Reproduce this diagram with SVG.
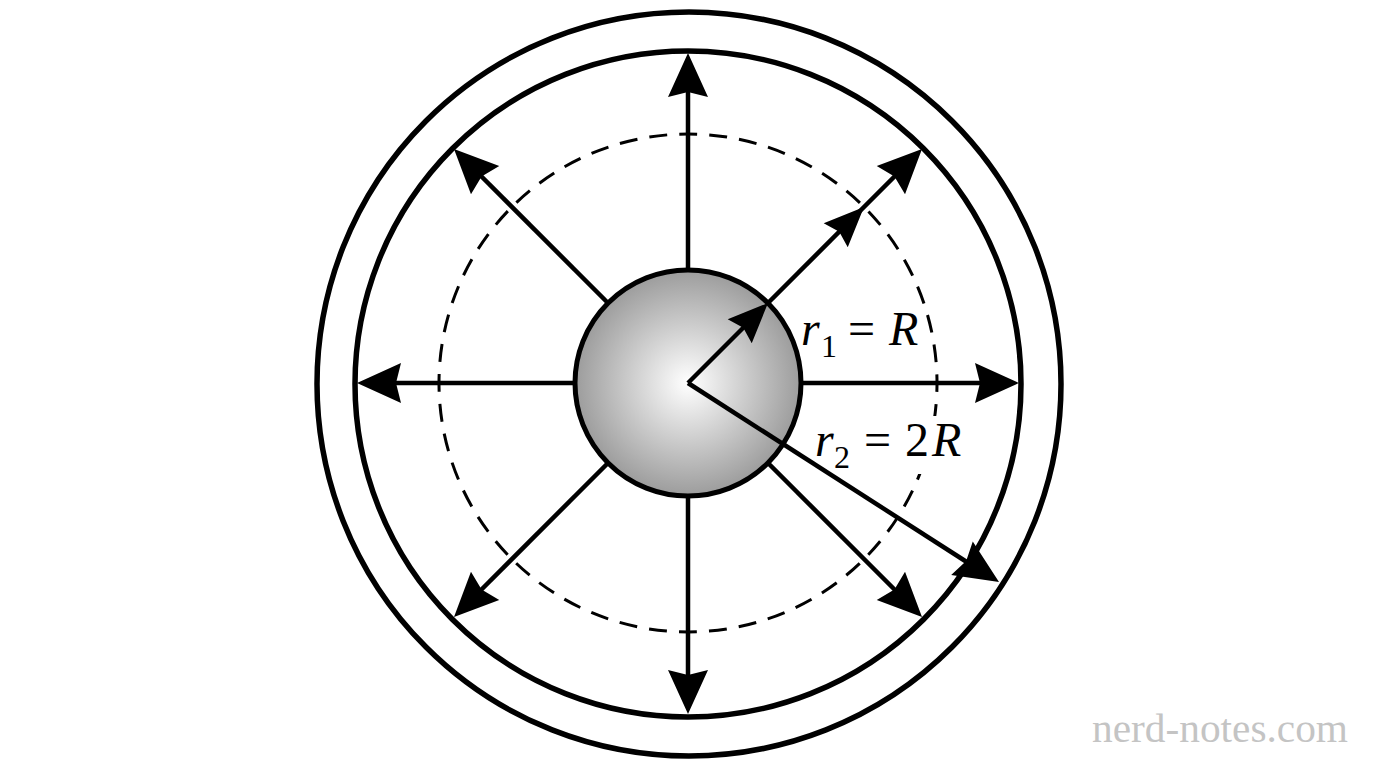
<svg xmlns="http://www.w3.org/2000/svg" width="1376" height="768" viewBox="0 0 1376 768">
  <style>
    .ring { fill: none; stroke: #000; stroke-width: 5.5; }
    .dash { fill: none; stroke: #000; stroke-width: 3; stroke-dasharray: 18 12.08; stroke-dashoffset: 9; }
    .ln { stroke: #000; stroke-width: 4.5; fill: none; }
    .head { fill: #000; }
    .lbl { font-family: "Liberation Serif", "Times New Roman", serif; font-size: 48px; fill: #000; }
    .it { font-style: italic; }
    .sub { font-size: 32px; }
    .wm { font-family: "Liberation Serif", "DejaVu Serif", serif; font-size: 40px; fill: #c4c4c4; }
  </style>
  <defs>
    <radialGradient id="sph" cx="50%" cy="50%" r="50%">
      <stop offset="0" stop-color="#ffffff"/>
      <stop offset="1" stop-color="#9c9c9c"/>
    </radialGradient>
    <path id="ah" d="M0,0 L-44,-20 L-39,0 L-44,20 Z"/>
    <path id="ahs" d="M0,0 L-40,-17 L-35,0 L-40,17 Z"/>
  </defs>
  <rect width="1376" height="768" fill="#fff"/>

  <g id="outer-shell">
    <circle class="ring" cx="689" cy="384" r="372"/>
  </g>
  <g id="inner-shell">
    <circle class="ring" cx="688" cy="384" r="333"/>
  </g>
  <g id="gauss-surface">
    <circle class="dash" cx="688" cy="383" r="249"/>
  </g>
  <g id="sphere">
    <circle cx="688" cy="383" r="113" fill="url(#sph)" stroke="#000" stroke-width="5"/>
  </g>

  <g id="connectors">
    <line class="ln" x1="688" y1="270" x2="688" y2="82"/>
    <use href="#ah" class="head" transform="translate(688,53) rotate(-90)"/>
    <line class="ln" x1="688" y1="496" x2="688" y2="684"/>
    <use href="#ah" class="head" transform="translate(688,714) rotate(90)"/>
    <line class="ln" x1="575" y1="383" x2="387" y2="383"/>
    <use href="#ah" class="head" transform="translate(357,383) rotate(180)"/>
    <line class="ln" x1="801" y1="383" x2="989" y2="383"/>
    <use href="#ah" class="head" transform="translate(1019,383)"/>

    <line class="ln" x1="768" y1="303" x2="901" y2="170"/>
    <use href="#ahs" class="head" transform="translate(864,207) rotate(-45)"/>
    <use href="#ah" class="head" transform="translate(922,149) rotate(-45)"/>
    <line class="ln" x1="608" y1="303" x2="475" y2="170"/>
    <use href="#ah" class="head" transform="translate(454,149) rotate(-135)"/>
    <line class="ln" x1="608" y1="463" x2="475" y2="596"/>
    <use href="#ah" class="head" transform="translate(454,617) rotate(135)"/>
    <line class="ln" x1="768" y1="463" x2="901" y2="596"/>
    <use href="#ah" class="head" transform="translate(922,617) rotate(45)"/>

    <line class="ln" x1="688" y1="383" x2="748" y2="323"/>
    <use href="#ahs" class="head" transform="translate(768,303) rotate(-45)"/>
    <line class="ln" x1="688" y1="383" x2="973" y2="566"/>
    <use href="#ah" class="head" transform="translate(999,582) rotate(32.7)"/>
  </g>

  <g id="label-r1">
    <text class="lbl" y="345"><tspan class="it" x="801">r</tspan><tspan class="sub" x="821" y="357">1</tspan><tspan x="848" y="345">=</tspan><tspan class="it" x="889" y="345">R</tspan></text>
  </g>
  <g id="label-r2">
    <rect x="898" y="416" width="70" height="58" fill="#fff"/>
    <text class="lbl" y="456"><tspan class="it" x="815">r</tspan><tspan class="sub" x="834" y="468">2</tspan><tspan x="864" y="456">=</tspan><tspan x="905" y="456">2</tspan><tspan class="it" x="932" y="456">R</tspan></text>
  </g>
  <g id="watermark">
    <text class="wm" x="1092" y="742" textLength="256" lengthAdjust="spacingAndGlyphs">nerd-notes.com</text>
  </g>
</svg>
